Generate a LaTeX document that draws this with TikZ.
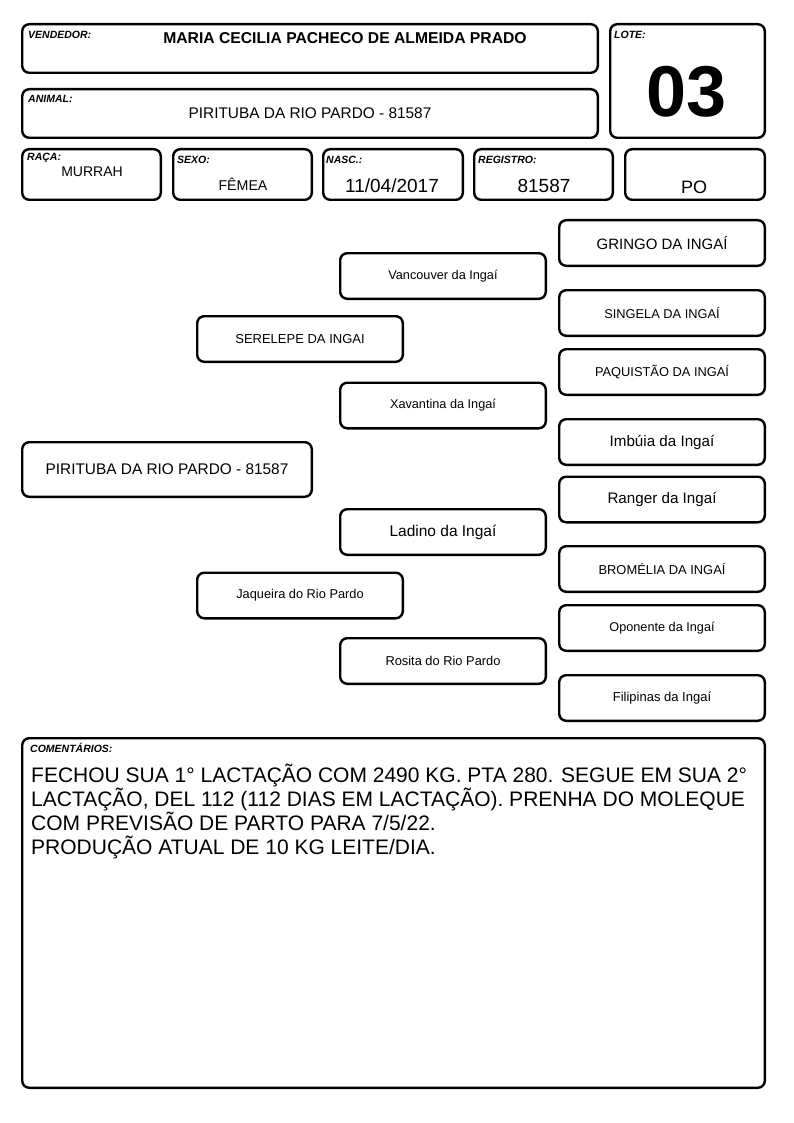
\documentclass[tikz,border=0pt]{standalone}
\usepackage{fontspec}
\setmainfont{Liberation Sans}
\newcommand\setfs[1]{\fontsize{#1}{#1}\selectfont}

\begin{document}
\begin{tikzpicture}[x=1pt,y=-1pt,
  frame/.style={draw,line width=2.4pt,rounded corners=7pt,inner sep=0pt},
  fieldlabel/.style={anchor=west,inner sep=0pt,font=\bfseries\itshape\setfs{10.5}},
  fieldvalue/.style={inner sep=0pt},
  pedbox/.style={frame,minimum width=205.6,minimum height=45.6}]
\useasboundingbox (0,0) rectangle (794,1123);

% header
\node[frame,minimum width=575.6,minimum height=48.6] (vendedor) at (310,48.5) {};
\node[frame,minimum width=154.6,minimum height=113.6] (lote) at (687.5,81) {};
\node[frame,minimum width=575.6,minimum height=48.6] (animal) at (310,113.5) {};
\node[frame,minimum width=138.6,minimum height=50.6] (raca) at (91.5,174.5) {};
\node[frame,minimum width=138.6,minimum height=50.6] (sexo) at (242.5,174.5) {};
\node[frame,minimum width=139.6,minimum height=50.6] (nasc) at (393,174.5) {};
\node[frame,minimum width=138.6,minimum height=50.6] (registro) at (543.5,174.5) {};
\node[frame,minimum width=139.6,minimum height=50.6] (po) at (695,174.5) {};

\node[fieldlabel] (vendedor-l) at (28,35) {VENDEDOR:};
\node[fieldvalue,font=\bfseries\setfs{15.7}] (vendedor-v) at (345,38) {MARIA CECILIA PACHECO DE ALMEIDA PRADO};
\node[fieldlabel] (lote-l) at (614,35) {LOTE:};
\node[fieldvalue,font=\bfseries\setfs{72}] (lote-v) at (687,92) {03};
\node[fieldlabel] (animal-l) at (28,99) {ANIMAL:};
\node[fieldvalue,font=\setfs{15.4}] (animal-v) at (310,113) {PIRITUBA DA RIO PARDO - 81587};
\node[fieldlabel] (raca-l) at (27,158) {RAÇA:};
\node[fieldvalue,font=\setfs{14}] (raca-v) at (92,172) {MURRAH};
\node[fieldlabel] (sexo-l) at (177,160) {SEXO:};
\node[fieldvalue,font=\setfs{14.2}] (sexo-v) at (243,184) {FÊMEA};
\node[fieldlabel] (nasc-l) at (326,160) {NASC.:};
\node[fieldvalue,font=\setfs{19}] (nasc-v) at (392,186) {11/04/2017};
\node[fieldlabel] (registro-l) at (478,160) {REGISTRO:};
\node[fieldvalue,font=\setfs{19}] (registro-v) at (544,186) {81587};
\node[fieldvalue,font=\setfs{18}] (po-v) at (694,187) {PO};

% pedigree
\node[frame,minimum width=289.6,minimum height=54.6,font=\setfs{15.4}] (pirituba) at (167,469.5) {PIRITUBA DA RIO PARDO - 81587};
\node[pedbox,font=\setfs{13}] (serelepe) at (300,339) {SERELEPE DA INGAI};
\node[pedbox,font=\setfs{12.8}] (jaqueira) at (300,595.5) {Jaqueira do Rio Pardo};
\node[pedbox,font=\setfs{12.7}] (vancouver) at (443,276) {Vancouver da Ingaí};
\node[pedbox,font=\setfs{12.7}] (xavantina) at (443,405.5) {Xavantina da Ingaí};
\node[pedbox,font=\setfs{15.5}] (ladino) at (443,532) {Ladino da Ingaí};
\node[pedbox,font=\setfs{12.85}] (rosita) at (443,661) {Rosita do Rio Pardo};
\node[pedbox,font=\setfs{15}] (gringo) at (662,243) {GRINGO DA INGAÍ};
\node[pedbox,font=\setfs{12.8}] (singela) at (662,313) {SINGELA DA INGAÍ};
\node[pedbox,font=\setfs{12.85}] (paquistao) at (662,372) {PAQUISTÃO DA INGAÍ};
\node[pedbox,font=\setfs{15.2}] (imbuia) at (662,442) {Imbúia da Ingaí};
\node[pedbox,font=\setfs{15.2}] (ranger) at (662,499.5) {Ranger da Ingaí};
\node[pedbox,font=\setfs{12.9}] (bromelia) at (662,569) {BROMÉLIA DA INGAÍ};
\node[pedbox,font=\setfs{12.7}] (oponente) at (662,628) {Oponente da Ingaí};
\node[pedbox,font=\setfs{13}] (filipinas) at (662,698) {Filipinas da Ingaí};

% comments
\node[frame,minimum width=742.6,minimum height=349.6] (comentarios) at (393.5,913) {};
\node[fieldlabel] (comentarios-l) at (30,748) {COMENTÁRIOS:};
\node[anchor=north west,inner sep=0pt,align=left,font={\fontsize{21}{24}\selectfont}] (comentarios-v) at (31,764)
  {FECHOU SUA 1° LACTAÇÃO COM 2490 KG. PTA 280. SEGUE EM SUA 2°\\
   LACTAÇÃO, DEL 112 (112 DIAS EM LACTAÇÃO). PRENHA DO MOLEQUE\\
   COM PREVISÃO DE PARTO PARA 7/5/22.\\
   PRODUÇÃO ATUAL DE 10 KG LEITE/DIA.};
\end{tikzpicture}
\end{document}
